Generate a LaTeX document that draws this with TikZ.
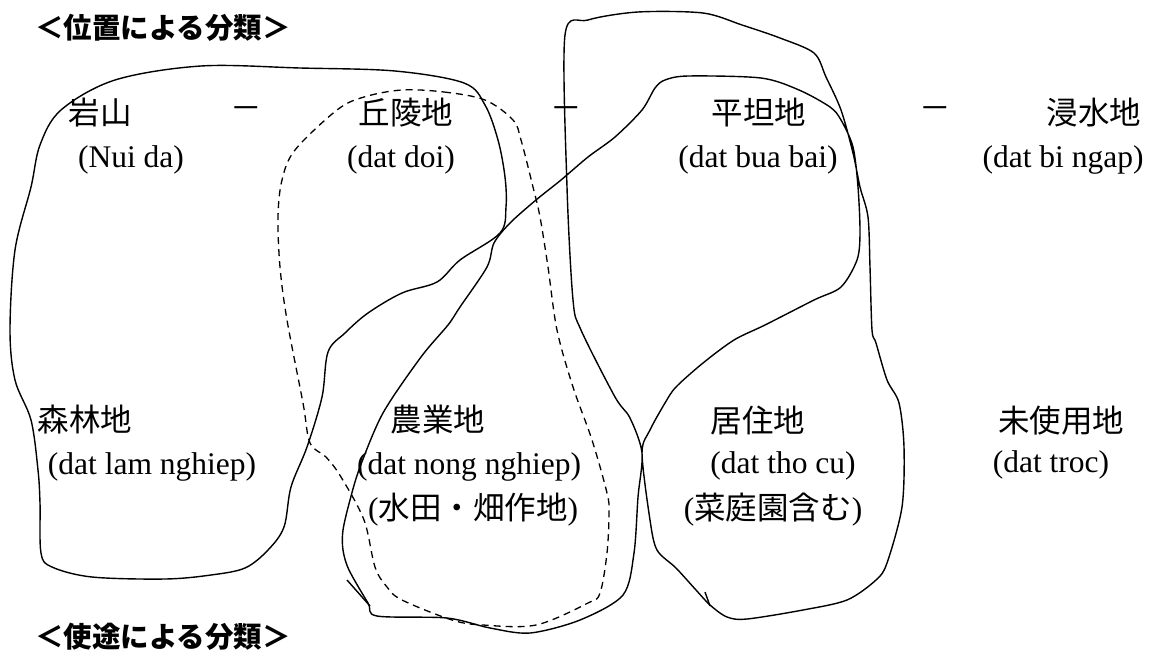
\documentclass[tikz,border=0pt]{standalone}
\usepackage{fontspec}
\setmainfont{Liberation Serif}
\newfontfamily\jp{Noto Sans CJK JP}
\tikzset{
  lbl/.style={inner sep=0pt, anchor=center, font=\fontsize{31.5}{36}\selectfont},
  ttl/.style={inner sep=0pt, anchor=center, font=\fontsize{28.5}{34}\selectfont\jp\bfseries},
  blob/.style={draw=black, line width=1.4pt, line join=round},
  dblob/.style={draw=black, line width=1.3pt, dash pattern=on 7pt off 5pt}
}
\begin{document}
\begin{tikzpicture}[x=1pt,y=-1pt]
\useasboundingbox (0,0) rectangle (1151,651);
% titles
\node[ttl] (t1) at (163,28) {＜位置による分類＞};
\node[ttl] (t2) at (163,637) {＜使途による分類＞};
% row 1
\node[lbl] (iwa) at (100,113) {\jp 岩山};
\node[lbl] (m1) at (246,113) {\jp －};
\node[lbl] (kyu) at (406,113) {\jp 丘陵地};
\node[lbl] (m2) at (566,113) {\jp －};
\node[lbl] (hei) at (759,113) {\jp 平坦地};
\node[lbl] (m3) at (935,113) {\jp －};
\node[lbl] (shin) at (1094,113) {\jp 浸水地};
% row 2
\node[lbl] (iwaL) at (131,160) {(Nui da)};
\node[lbl] (kyuL) at (401,160) {(dat doi)};
\node[lbl] (heiL) at (758,160) {(dat bua bai)};
\node[lbl] (shinL) at (1063,160) {(dat bi ngap)};
% row 3
\node[lbl] (shu) at (85,420) {\jp 森林地};
\node[lbl] (nou) at (438,420) {\jp 農業地};
\node[lbl] (kyo) at (758,421) {\jp 居住地};
\node[lbl] (mi) at (1061,421) {\jp 未使用地};
% row 4
\node[lbl] (shuL) at (152,467) {(dat lam nghiep)};
\node[lbl] (nouL) at (469,467) {(dat nong nghiep)};
\node[lbl] (kyoL) at (783,466) {(dat tho cu)};
\node[lbl] (miL) at (1051,465) {(dat troc)};
% row 5
\node[lbl] (nouJ) at (473,510) {({\jp 水田・畑作地})};
\node[lbl] (kyoJ) at (773,510) {({\jp 菜庭園含む})};
% left blob (iwa -> shinrin)
\draw[blob] plot[smooth cycle, tension=0.55] coordinates {
 (201,66) (300,68) (395,71) (464,83) (485,105) (498,140) (505,177) (506,207)
 (500,233) (460,260) (437,282) (402,293) (368,313) (345,333) (328,352)
 (322,397) (307,447) (291,487) (284,527) (268,550) (245,568) (211,575)
 (165,579) (92,577) (52,567) (41,553) (40,503) (38,470) (31,420) (15,380)
 (10,330) (15,250) (31,187) (40,145) (61,110) (115,80)};
% dashed blob (kyuryo -> nogyo)
\draw[dblob] plot[smooth cycle, tension=0.55] coordinates {
 (402,90) (444,92) (485,100) (513,120) (521,140) (533,187) (540,217) (548,267)
 (557,330) (573,387) (592,440) (607,493) (609,513) (607,553) (600,593) (588,603)
 (536,625) (483,625) (452,620) (402,600) (387,587) (375,567) (364,520)
 (341,477) (326,457) (310,443) (303,403) (287,320) (280,267) (278,217)
 (282,180) (295,150) (337,110) (364,97)};
% big solid loop (heitan -> kyoju, heitan -> nogyo)
\draw[blob] plot[smooth cycle, tension=0.5] coordinates {
 (565,35) (588,20) (638,12) (703,13) (742,25) (780,38) (814,53) (826,77)
 (841,110) (853,153) (860,187) (868,217) (870,267) (872,330) (876,343)
 (887,380) (899,403) (904,447) (902,507) (887,563) (876,580) (847,600)
 (803,610) (747,619) (727,617) (710,605) (696,590) (676,568) (657,550)
 (650,520) (642,453) (650,430) (665,403) (676,387) (703,363) (734,340)
 (765,325) (814,300) (841,287) (857,260) (860,233) (858,187) (853,147)
 (841,120) (830,107) (799,90) (761,78) (688,76) (665,80) (655,88) (642,110)
 (615,137) (588,157) (561,180) (536,200) (510,223) (494,243) (487,267)
 (460,307) (448,325) (421,357) (383,413) (360,467) (350,500) (343,530)
 (343,550) (349,570) (368,603) (377,616) (447,618) (490,628) (530,633)
 (580,620) (623,595) (634,553) (638,497) (642,453) (630,418) (615,397)
 (581,330) (573,300) (567,187)};
% small scribbles
\coordinate (s1) at (347,580);
\coordinate (s2) at (370,606);
\draw[blob] (s1) -- (s2);
\coordinate (s3) at (705,592);
\coordinate (s4) at (710,606);
\draw[blob] (s3) -- (s4);
\end{tikzpicture}
\end{document}
